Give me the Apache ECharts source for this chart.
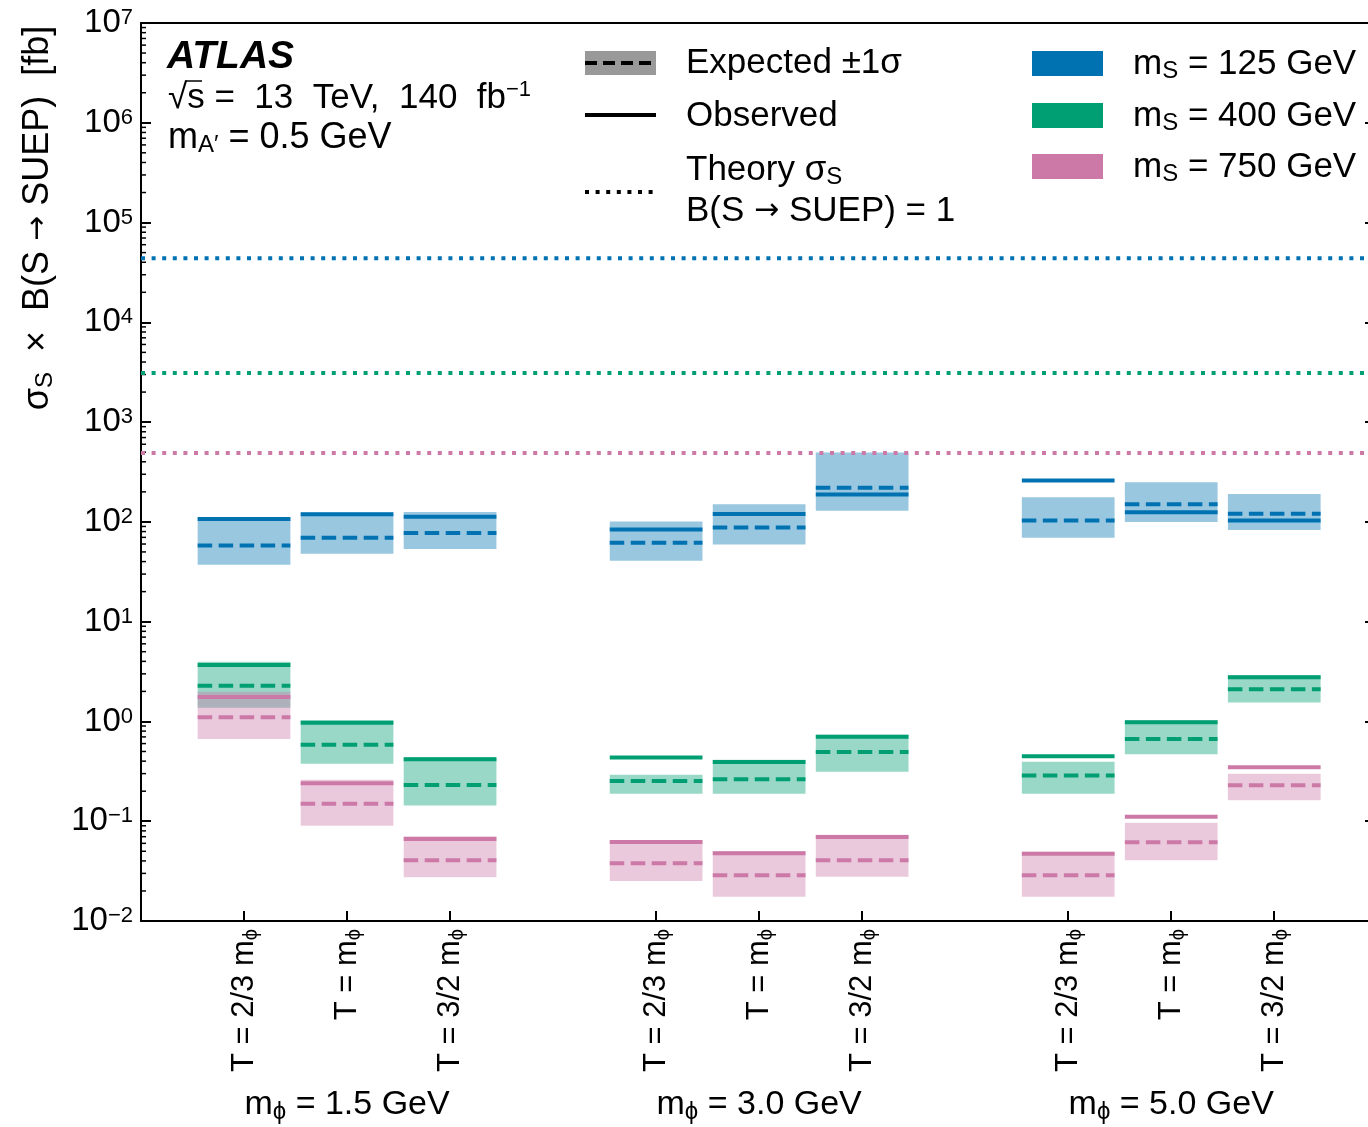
<!DOCTYPE html>
<html>
<head>
<meta charset="utf-8">
<script src="https://cdn.jsdelivr.net/npm/echarts@6/dist/echarts.min.js"></script>
<style>
html,body{margin:0;padding:0;background:#fff;}
#c{width:1368px;height:1127px;}
</style>
</head>
<body>
<div id="c"></div>
<script>
// ---------------- data ----------------
const groupLabels = ['1.5 GeV', '3.0 GeV', '5.0 GeV'];
const tempLabels = ['2/3 m', 'm', '3/2 m'];
const massLabels = ['125 GeV', '400 GeV', '750 GeV'];
const massColors = ['#0072B2', '#009E73', '#CC79A7'];
const bandColors = ['rgba(0,114,178,0.4)', 'rgba(0,158,115,0.4)', 'rgba(204,121,167,0.4)'];

// order: mphi=1.5 (T=2/3, 1, 3/2), mphi=3.0 (...), mphi=5.0 (...)
const obs125 = [107, 119, 112.5, 84, 120, 188, 260, 125, 103.5];
const exp125 = [58, 69.3, 77.2, 61.8, 88.1, 220, 103.5, 150, 120.6];
const up125  = [112, 124.5, 125.6, 101, 150, 497, 177, 249, 190];
const dn125  = [37.2, 47.9, 53.4, 40.8, 59.5, 129, 69.3, 99.6, 82.8];

const obs400 = [3.67, 0.97, 0.417, 0.434, 0.392, 0.703, 0.447, 0.98, 2.77];
const exp400 = [2.28, 0.585, 0.231, 0.253, 0.263, 0.493, 0.288, 0.667, 2.10];
const up400  = [3.96, 1.03, 0.437, 0.293, 0.413, 0.736, 0.394, 1.03, 2.90];
const dn400  = [1.37, 0.377, 0.144, 0.189, 0.189, 0.313, 0.189, 0.468, 1.55];

const obs750 = [1.76, 0.240, 0.0664, 0.0619, 0.0477, 0.0695, 0.0472, 0.111, 0.347];
const exp750 = [1.10, 0.150, 0.0406, 0.0379, 0.0287, 0.0406, 0.0287, 0.0615, 0.229];
const up750  = [1.98, 0.260, 0.0706, 0.0648, 0.0499, 0.0733, 0.0495, 0.0966, 0.299];
const dn750  = [0.667, 0.090, 0.0274, 0.0252, 0.0175, 0.0278, 0.0175, 0.0406, 0.162];

const theoryXS = [44000, 3100, 489];

const yMin = 0.01, yMax = 1e7;
const xMin = -1, xMax = 10.91;   // visible part of the slot axis (frame is cropped on the right)
// ---------------------------------------

const FONT = '"Liberation Sans", Arial, Helvetica, sans-serif';
const obsAll = [obs125, obs400, obs750];
const expAll = [exp125, exp400, exp750];
const upAll = [up125, up400, up750];
const dnAll = [dn125, dn400, dn750];

// x slot for each point: group*4 + temperature index (one empty slot between groups)
const slots = [];
for (let g = 0; g < groupLabels.length; g++)
  for (let t = 0; t < tempLabels.length; t++) slots.push(g * 4 + t);

const minorVals = [];
for (let e = Math.log10(yMin); e < Math.log10(yMax); e++)
  for (let m = 2; m <= 9; m++) minorVals.push([m * Math.pow(10, e)]);

const series = [];
// limit bands + lines
for (let k = 0; k < 3; k++) {
  const data = slots.map((x, i) => [x, dnAll[k][i], upAll[k][i], expAll[k][i], obsAll[k][i]]);
  series.push({
    type: 'custom',
    name: 'mS ' + massLabels[k],
    xAxisIndex: 0, yAxisIndex: 0,
    data: data,
    silent: true,
    renderItem: function (params, api) {
      const x = api.value(0);
      const pTL = api.coord([x - 0.45, api.value(2)]);
      const pBR = api.coord([x + 0.45, api.value(1)]);
      const pe = api.coord([x, api.value(3)]);
      const po = api.coord([x, api.value(4)]);
      return {
        type: 'group',
        children: [
          { type: 'rect', shape: { x: pTL[0], y: pTL[1], width: pBR[0] - pTL[0], height: pBR[1] - pTL[1] },
            style: { fill: bandColors[k] } },
          { type: 'line', shape: { x1: pTL[0], y1: pe[1], x2: pBR[0], y2: pe[1] },
            style: { stroke: massColors[k], lineWidth: 4, lineDash: [14.5, 6.5] } },
          { type: 'line', shape: { x1: pTL[0], y1: po[1], x2: pBR[0], y2: po[1] },
            style: { stroke: massColors[k], lineWidth: 4 } }
        ]
      };
    }
  });
}
// theory lines
for (let k = 0; k < 3; k++) {
  series.push({
    type: 'line',
    xAxisIndex: 0, yAxisIndex: 0,
    data: [[xMin, theoryXS[k]], [xMax, theoryXS[k]]],
    symbol: 'none',
    silent: true,
    z: 3,
    lineStyle: { color: massColors[k], width: 4, type: [4, 6.6], cap: 'butt' }
  });
}
// minor ticks on the left axis
series.push({
  type: 'custom',
  xAxisIndex: 0, yAxisIndex: 0,
  data: minorVals,
  silent: true,
  clip: false,
  renderItem: function (params, api) {
    const p = api.coord([xMin, api.value(0)]);
    return { type: 'line', shape: { x1: p[0], y1: p[1], x2: p[0] + 5, y2: p[1] },
      style: { stroke: '#000', lineWidth: 1.5 } };
  },
  encode: { y: 0 }
});

function expLabel(v) {
  const e = Math.round(Math.log10(v));
  return '10{sup|' + (e < 0 ? '\u2212' + (-e) : e) + '}';
}

const option = {
  animation: false,
  backgroundColor: '#fff',
  textStyle: { fontFamily: FONT },
  grid: { left: 141, right: 0, top: 23, bottom: 206, show: false },
  xAxis: [{
    type: 'value', min: xMin, max: xMax, position: 'bottom',
    axisLine: { onZero: false, lineStyle: { color: '#000', width: 2 } },
    axisTick: { inside: true, length: 10, lineStyle: { color: '#000', width: 2 }, customValues: slots },
    splitLine: { show: false },
    axisLabel: {
      customValues: slots,
      rotate: 90,
      margin: 8,
      color: '#000',
      fontFamily: FONT,
      fontSize: 31,
      lineHeight: 34,
      formatter: function (v) {
        const i = slots.indexOf(v);
        if (i < 0) return '';
        return 'T = ' + tempLabels[i % 3] + '{sub|\u03d5}';
      },
      rich: {
        sub: { fontSize: 20, lineHeight: 20, verticalAlign: 'bottom', fontFamily: FONT, color: '#000' }
      }
    }
  }, {
    type: 'value', min: xMin, max: xMax, position: 'top',
    axisLine: { onZero: false, lineStyle: { color: '#000', width: 2 } },
    axisTick: { show: false }, axisLabel: { show: false }, splitLine: { show: false }
  }],
  yAxis: [{
    type: 'log', logBase: 10, min: yMin, max: yMax, splitNumber: 10, position: 'left',
    axisLine: { show: true, onZero: false, lineStyle: { color: '#000', width: 2 } },
    axisTick: { show: true, inside: true, length: 10, lineStyle: { color: '#000', width: 2 } },
    splitLine: { show: false },
    axisLabel: {
      color: '#000', fontFamily: FONT, fontSize: 33, lineHeight: 32, margin: 8,
      formatter: expLabel,
      rich: { sup: { fontSize: 22, lineHeight: 20, verticalAlign: 'top', fontFamily: FONT, color: '#000' } }
    }
  }, {
    type: 'log', logBase: 10, min: yMin, max: yMax, splitNumber: 10, position: 'right',
    axisLine: { show: false, onZero: false },
    axisTick: { show: true, inside: true, length: 3, lineStyle: { color: '#000', width: 2 } },
    splitLine: { show: false },
    axisLabel: { show: false }
  }],
  series: series
};

const chart = echarts.init(document.getElementById('c'), null, { renderer: 'canvas' });
chart.setOption(option);

const subStyle = { fontSize: 24, lineHeight: 22, verticalAlign: 'bottom', fontFamily: FONT, fill: '#000' };
const supStyle = { fontSize: 22, lineHeight: 20, verticalAlign: 'top', fontFamily: FONT, fill: '#000' };
const arrStyle = { fontSize: 30, fontFamily: '"DejaVu Sans", sans-serif', fill: '#000' };
function txt(x, y, text, size, extra) {
  return Object.assign({
    type: 'text', x: x, y: y, silent: true,
    style: Object.assign({
      text: text, fontSize: size, fontFamily: FONT, fill: '#000', align: 'left', verticalAlign: 'middle',
      lineHeight: 38,
      rich: { sub: subStyle, sup: supStyle, arr: arrStyle }
    }, extra || {})
  });
}

const graphics = [];
// y-axis title
graphics.push({
  type: 'text', x: 38, y: 218, rotation: Math.PI / 2, silent: true,
  style: { text: '\u03c3{sub|S}  \u00d7  B(S {arr|\u2192} SUEP)  [fb]', fontSize: 36, fontFamily: FONT, fill: '#000',
    align: 'center', verticalAlign: 'middle', lineHeight: 38, rich: { sub: subStyle, arr: arrStyle } }
});
// ATLAS label
graphics.push(txt(167, 57, 'ATLAS', 39, { fontWeight: 'bold', fontStyle: 'italic' }));
graphics.push(txt(168, 98, '\u221as =  13  TeV,  140  fb{sup|\u22121}', 35));
graphics.push({ type: 'line', silent: true, shape: { x1: 185, y1: 81, x2: 202, y2: 81 }, style: { stroke: '#000', lineWidth: 1.5 } });
graphics.push(txt(168, 138, 'm{sub|A\u2032} = 0.5 GeV', 36));

// legend (left block)
graphics.push({ type: 'rect', silent: true, shape: { x: 585, y: 51, width: 71, height: 24 }, style: { fill: 'rgba(0,0,0,0.4)' } });
graphics.push({ type: 'line', silent: true, shape: { x1: 585, y1: 63, x2: 656, y2: 63 }, style: { stroke: '#000', lineWidth: 4, lineDash: [12, 6] } });
graphics.push(txt(686, 63, 'Expected \u00b11\u03c3', 35));
graphics.push({ type: 'line', silent: true, shape: { x1: 585, y1: 115, x2: 656, y2: 115 }, style: { stroke: '#000', lineWidth: 4 } });
graphics.push(txt(686, 116, 'Observed', 35));
graphics.push({ type: 'line', silent: true, shape: { x1: 585, y1: 192, x2: 656, y2: 192 }, style: { stroke: '#000', lineWidth: 4, lineDash: [4, 6.6] } });
graphics.push(txt(686, 170, 'Theory \u03c3{sub|S}', 35));
graphics.push(txt(686, 211, 'B(S {arr|\u2192} SUEP) = 1', 35));
// legend (mass colours)
const boxY = [51, 103, 154];
for (let k = 0; k < 3; k++) {
  graphics.push({ type: 'rect', silent: true, shape: { x: 1032, y: boxY[k], width: 71, height: 25 }, style: { fill: massColors[k] } });
  graphics.push(txt(1133, boxY[k] + 13, 'm{sub|S} = ' + massLabels[k], 35));
}
// group labels under the axis
for (let g = 0; g < groupLabels.length; g++) {
  const px = chart.convertToPixel({ xAxisIndex: 0 }, g * 4 + 1);
  graphics.push({
    type: 'text', x: px, y: 1105, silent: true,
    style: { text: 'm{sub|\u03d5} = ' + groupLabels[g], fontSize: 34, fontFamily: FONT, fill: '#000',
      align: 'center', verticalAlign: 'middle', lineHeight: 38, rich: { sub: subStyle } }
  });
}
chart.setOption({ graphic: graphics });
</script>
</body>
</html>
